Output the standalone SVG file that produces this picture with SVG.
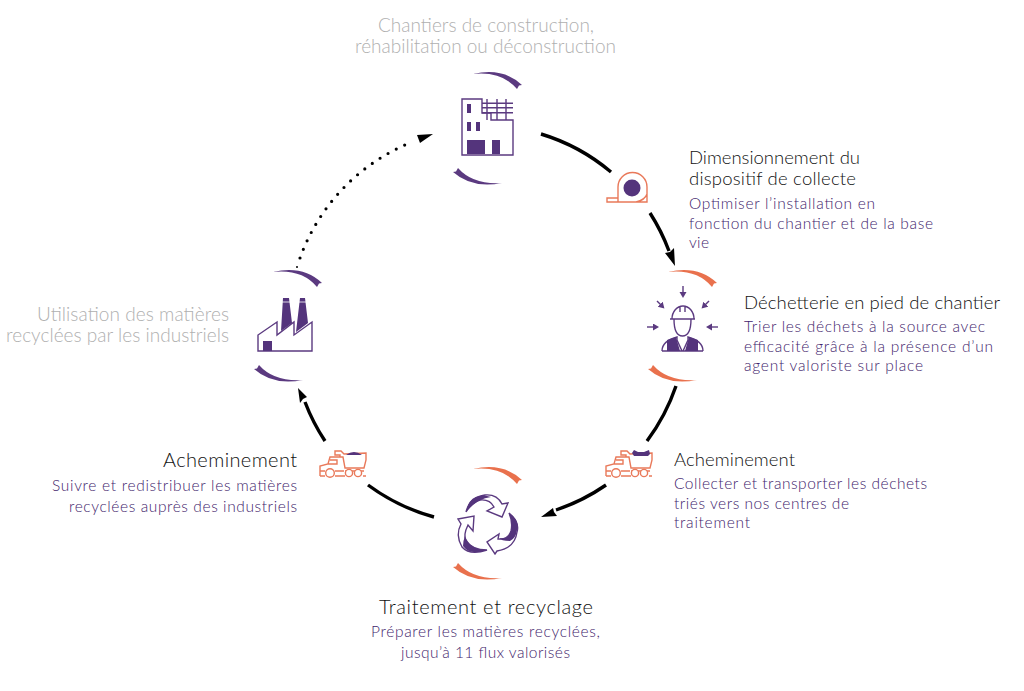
<svg xmlns="http://www.w3.org/2000/svg" width="1024" height="691" viewBox="0 0 1024 691">
<defs>
<marker id="pa" markerWidth="8" markerHeight="8" refX="4" refY="3.500" orient="auto" markerUnits="userSpaceOnUse"><path d="M0 0L6 3.500L0 7Z" fill="#5b3a80"/></marker>
<path id="ct" d="M473 74Q503 67 522 85L519 85.500L517 89Q502 71 473 74Z"/>
<path id="cb" d="M502 183Q472 189 453 172L456 171.500L458 168Q473 185 502 183Z"/>
<g id="truck">
<path d="M1 25V15L9 13L11 6H21V4H16V0H22L25 3L47 2V9L45 17H26L24 6H21M11 9H18V13H9.500M1 20H6M16 20H25M26 20H45M1 25H6M16 25H26M44 25H47" fill="none" stroke-width="1.400"/>
<circle cx="11" cy="22" r="4.300" fill="#fff" stroke-width="1.400"/><circle cx="30" cy="22" r="3.600" fill="#fff" stroke-width="1.400"/><circle cx="39" cy="22" r="3.600" fill="#fff" stroke-width="1.400"/>
</g>
</defs>
<style>
text{font-family:"Lato","Noto Sans","Liberation Sans",sans-serif;font-weight:300}
.t{font-size:18.500px;fill:#111}
.d{font-size:15.500px;fill:#42246c}
.g{font-size:19px;fill:#b0b0b0}
.c{fill:none;stroke:#000;stroke-width:3.400}
.o{fill:none;stroke:#e9795a;stroke-width:1.400}
.p{fill:none;stroke:#5b3a80;stroke-width:1.400}
.f{fill:#54347c}
.sp{fill:#5b3a80}.so{fill:#e9714d}
</style>
<rect width="1024" height="691" fill="#fff"/>
<g id="connectors">
<path class="c" d="M541 134A197 197 0 0 1 611 172"/>
<path class="c" d="M650 213A199 199 0 0 1 669 251"/>
<path d="M675 266L665 253L670 252L674 248Z" fill="#000"/>
<path class="c" d="M676 386A200 200 0 0 1 647 441"/>
<path class="c" d="M606 485A202 202 0 0 1 556 510"/>
<path d="M541 517L553 508L554 512L557 516Z" fill="#000"/>
<path class="c" d="M434 517A200 200 0 0 1 368 485"/>
<path class="c" d="M325 441A198 198 0 0 1 305 402"/>
<path d="M298 388L307 397L303 399L300 403Z" fill="#000"/>
<circle cx="297" cy="267" r="1"/>
<path d="M300 258A196 196 0 0 1 412 142" fill="none" stroke="#000" stroke-width="3.200" stroke-dasharray="0 9.300" stroke-linecap="round"/>
<path d="M433 134L417 135L420 143Z" fill="#000"/>
</g>
<g id="node-chantiers">
<text class="g" x="378" y="32" textLength="216">Chantiers de construction,</text>
<text class="g" x="355" y="53" textLength="261">réhabilitation ou déconstruction</text>
<use href="#ct" class="sp"/>
<use href="#cb" class="sp"/>
<path class="p" d="M462 99H482V113H491V120H513V155H462Z"/>
<path class="p" d="M482 103.300H513M482 107.700H513M482 112.700H513M487 99V120M497 99V120M506 99V120"/>
<path class="f" d="M467 104H471V113H467ZM467 122H471V131H467ZM476 122H480V131H476ZM467 140H485V154H467ZM492 140H500V154H492Z"/>
</g>
<g id="node-dimensionnement">
<path class="o" d="M618 202V187A14.500 14.500 0 0 1 647 187V202ZM618 198H607V202H618M636 202Q645 200 647 194"/>
<circle class="f" cx="632" cy="188" r="8.500"/>
<text class="t" x="689" y="164" textLength="171">Dimensionnement du</text>
<text class="t" x="689" y="185" textLength="167">dispositif de collecte</text>
<text class="d" x="689" y="209" textLength="186">Optimiser l’installation en</text>
<text class="d" x="689" y="229" textLength="244">fonction du chantier et de la base</text>
<text class="d" x="689" y="248" textLength="20">vie</text>
</g>
<g id="node-decheterie">
<use href="#ct" class="so" x="195" y="198"/>
<use href="#cb" class="so" x="195" y="197"/>
<path class="p" d="M672 319A11 13 0 0 1 694 319M670 319H695M680 307V312M685 307V312M674 319Q674 336 682.500 336Q691 336 691 319M662 351Q662 341 677 337V340L682 351M703 351Q703 341 688 337V340L683 351M662 351H703"/>
<path class="f" d="M667 340L676 337L680 351H667ZM698 340L689 337L685 351H698Z"/>
<path class="p" marker-end="url(#pa)" d="M683 286V296"/>
<path class="p" marker-end="url(#pa)" d="M657 301L663 307"/>
<path class="p" marker-end="url(#pa)" d="M709 301L703 307"/>
<path class="p" marker-end="url(#pa)" d="M647 327H657"/>
<path class="p" marker-end="url(#pa)" d="M718 327H708"/>
<text class="t" x="744" y="309" textLength="256">Déchetterie en pied de chantier</text>
<text class="d" x="744" y="332" textLength="241">Trier les déchets à la source avec</text>
<text class="d" x="744" y="352" textLength="249">efficacité grâce à la présence d’un</text>
<text class="d" x="744" y="371" textLength="179">agent valoriste sur place</text>
</g>
<g id="node-acheminement-1">
<use href="#truck" x="605" y="451" stroke="#e9795a"/>
<path class="f" d="M632 453L634 450L638 452H644L649 450L650 454L648 456H634Z"/>
<text class="t" x="674" y="466" textLength="121">Acheminement</text>
<text class="d" x="674" y="489" textLength="253">Collecter et transporter les déchets</text>
<text class="d" x="674" y="509" textLength="175">triés vers nos centres de</text>
<text class="d" x="674" y="528" textLength="76">traitement</text>
</g>
<g id="node-traitement">
<use href="#ct" class="so" y="395"/>
<use href="#cb" class="so" y="395"/>
<path class="p" d="M466 512Q470 497 485 495Q497 494 502 504L508 503L502 517L487 511L494 507Q490 499 480 500Q472 502 466 512Z"/>
<path class="f" d="M466 512Q468 500 476 497Q483 494 491 497Q478 498 466 512Z"/>
<path class="p" d="M509 513Q520 522 517 532Q515 548 497 551L495 554L487 542L499 534L498 539Q508 540 511 531Q513 522 509 513Z"/>
<path class="f" d="M509 513Q520 520 517 530Q516 538 510 541Q501 541 499 538Q508 540 511 531Q513 522 509 513Z"/>
<path class="p" d="M458 519L474 516L473 531L468 525Q463 535 466 541Q472 550 487 550Q470 556 462 547Q455 535 461 524Z"/>
<path class="f" d="M465 536Q470 550 487 550Q470 556 463 546Q463 541 465 536Z"/>
<text class="t" style="font-size:20px" x="379" y="614" textLength="214">Traitement et recyclage</text>
<text class="d" x="371" y="637" textLength="229">Préparer les matières recyclées,</text>
<text class="d" x="401" y="658" textLength="169">jusqu’à 11 flux valorisés</text>
</g>
<g id="node-acheminement-2">
<use href="#truck" x="319" y="451" stroke="#e9795a"/>
<path class="f" d="M346 455Q354 449 362 455Z"/>
<text class="t" style="font-size:20px" x="163" y="467" textLength="134">Acheminement</text>
<text class="d" x="52" y="491" textLength="245">Suivre et redistribuer les matières</text>
<text class="d" x="69" y="512" textLength="228">recyclées auprès des industriels</text>
</g>
<g id="node-industriels">
<use href="#ct" class="sp" x="-200" y="198"/>
<use href="#cb" class="sp" x="-199" y="197"/>
<path class="p" d="M258 351V335L277 322V335L294 322V335L312 322V351Z"/>
<path class="f" d="M283 298H289L292 323L281 331ZM300 298H305L308 323L296 332ZM263 341H272V351H263Z"/>
<path d="M282 302H290M299 302H306" stroke="#fff" stroke-width=".8"/>
<text class="g" x="37" y="321" textLength="192">Utilisation des matières</text>
<text class="g" x="6" y="342" textLength="223">recyclées par les industriels</text>
</g>
</svg>
